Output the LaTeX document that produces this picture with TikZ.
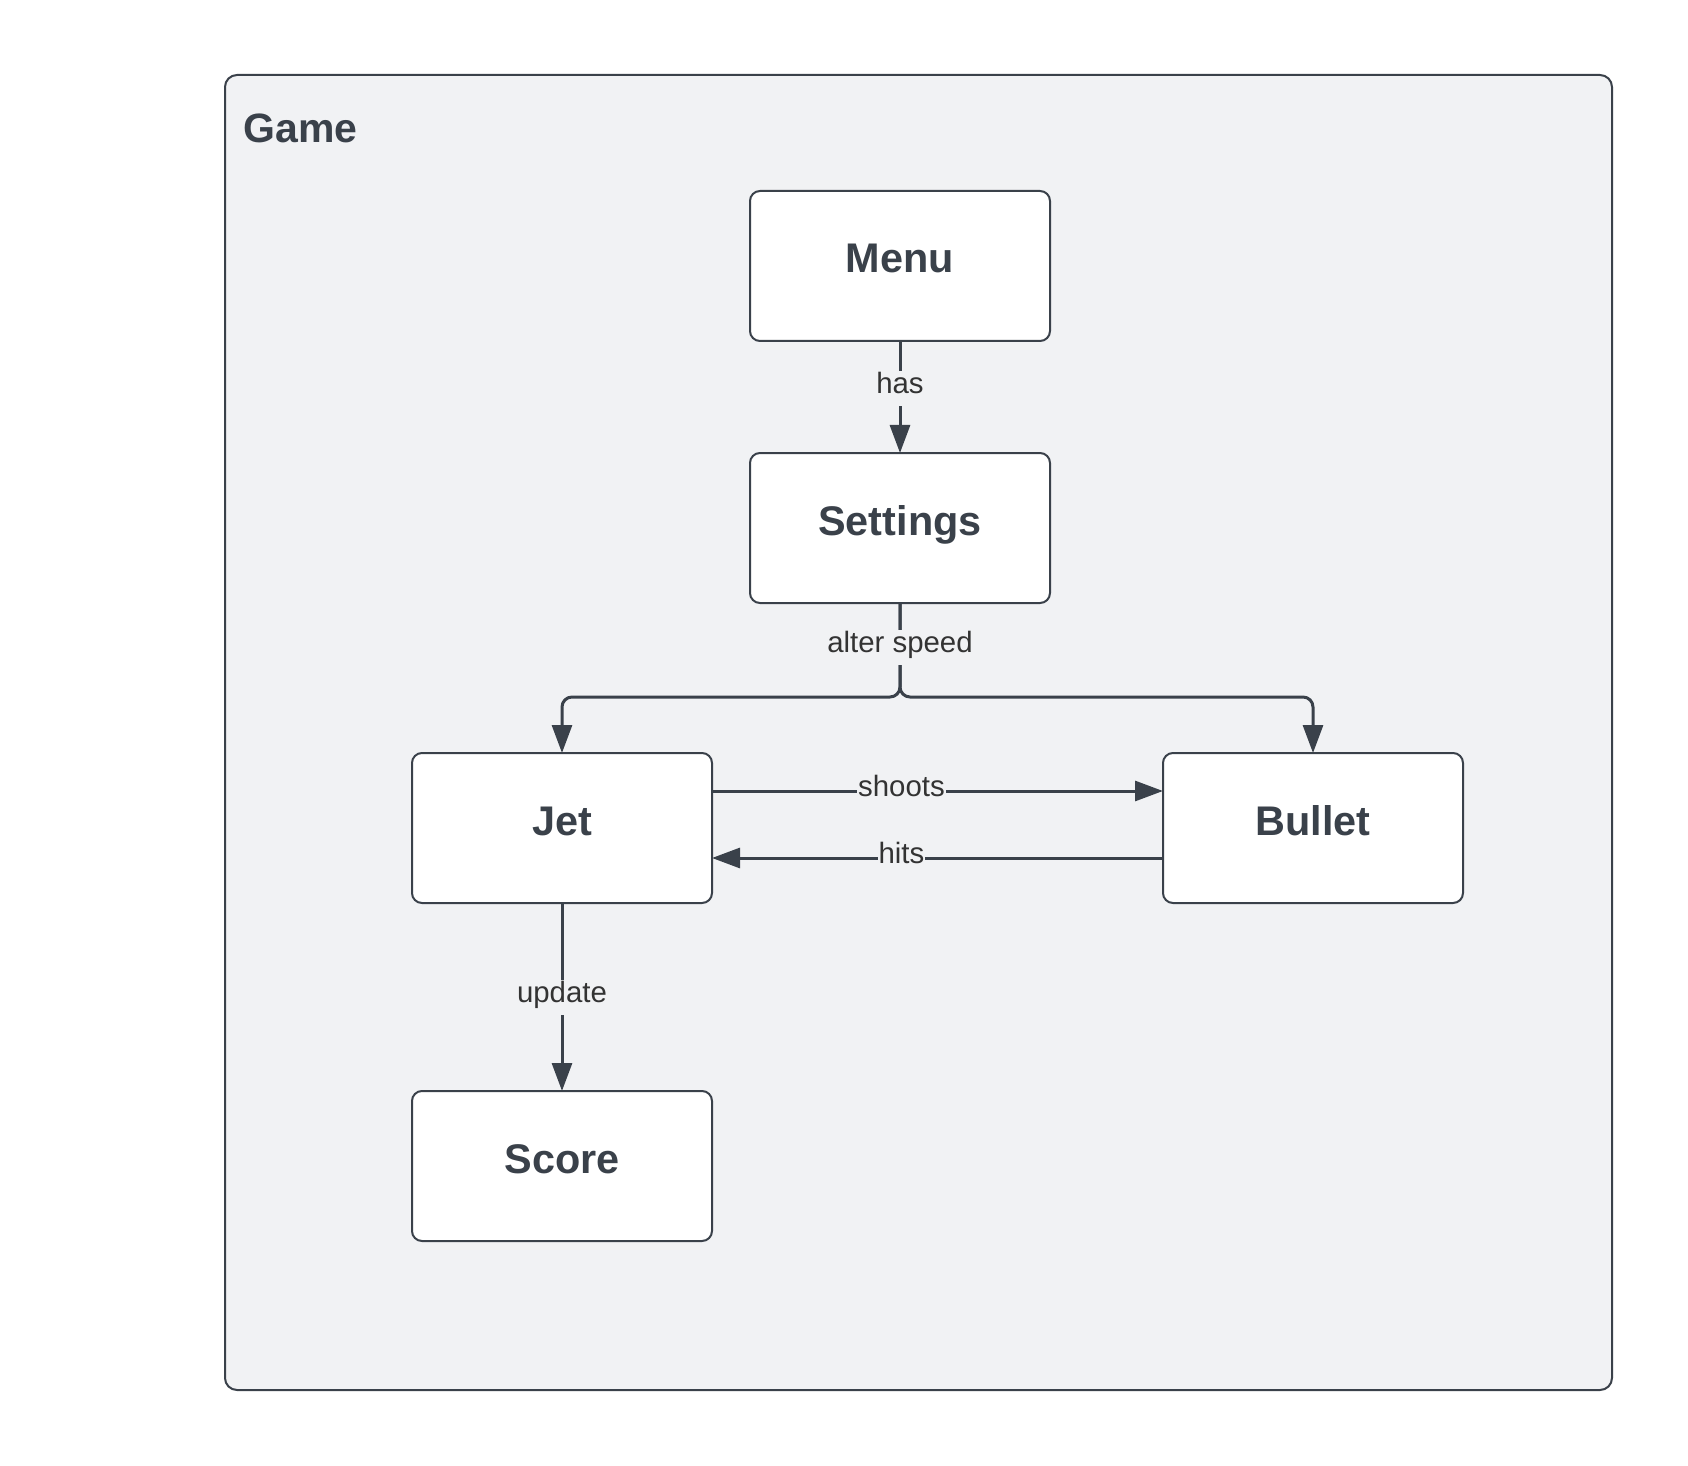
\documentclass[tikz,border=0pt]{standalone}
\usepackage{fontspec}
\setmainfont{Liberation Sans}
\usetikzlibrary{arrows.meta,positioning}
\definecolor{ink}{HTML}{3A414A}
\definecolor{panel}{HTML}{F1F2F4}
\definecolor{labelink}{HTML}{333333}

\begin{document}
\begin{tikzpicture}[x=0.5pt, y=-0.5pt,
		box/.style  = {draw=ink, fill=white, line width=1pt, rounded corners=5pt, outer sep=0pt,
			minimum width=150pt, minimum height=75pt, text height=15pt, text depth=8pt,
			font=\fontsize{20.7}{24}\selectfont\bfseries, text=ink},
		conn/.style = {draw=ink, line width=1.5pt, ->},
		lbl/.style  = {fill=panel, inner sep=0.5pt, text height=11pt, text depth=5.5pt,
			font=\fontsize{14.7}{17}\selectfont, text=labelink},
		>={Triangle[length=14pt, width=10pt]}]
	
	\useasboundingbox (0,0) rectangle (1688,1466);
	
	% the frame of the game
	\node[draw=ink, fill=panel, line width=1pt, rounded corners=6pt,
		minimum width=693.5pt, minimum height=657.5pt] (game) at (918.5,732.5) {};
	\node[anchor=base west, inner sep=0pt, text=ink,
		font=\fontsize{20.5}{24}\selectfont\bfseries] (gametitle) at (243,143) {Game};
	
	% the boxes, relatively positioned
	\node[box] (menu) at (900,266) {Menu};
	\node[box, below=56pt of menu] (set) {Settings};
	\node[box] (jet) at (562,828) {Jet};
	\node[box, right=225.5pt of jet] (bullet) {Bullet};
	\node[box, below=94pt of jet] (score) {Score};
	
	% lines between the boxes
	\draw[conn] (menu) -- node[lbl, pos=0.42] (has) {has} (set);
	
	\foreach \target in {jet, bullet}
	\draw[conn, rounded corners=5pt] (set.south) -- ++(0,-47pt) -| (\target.north);
	\path (set.south) -- ++(0,-47pt) node[lbl, pos=0.47] (alter) {alter speed};
	
	\draw[conn] ([yshift=18.5pt]jet.east) -- node[lbl, pos=0.42] (shoots) {shoots} ([yshift=18.5pt]bullet.west);
	\draw[conn] ([yshift=-15pt]bullet.west) -- node[lbl, pos=0.58] (hits) {hits} ([yshift=-15pt]jet.east);
	
	\draw[conn] (jet) -- node[lbl] (update) {update} (score);
\end{tikzpicture}
\end{document}
